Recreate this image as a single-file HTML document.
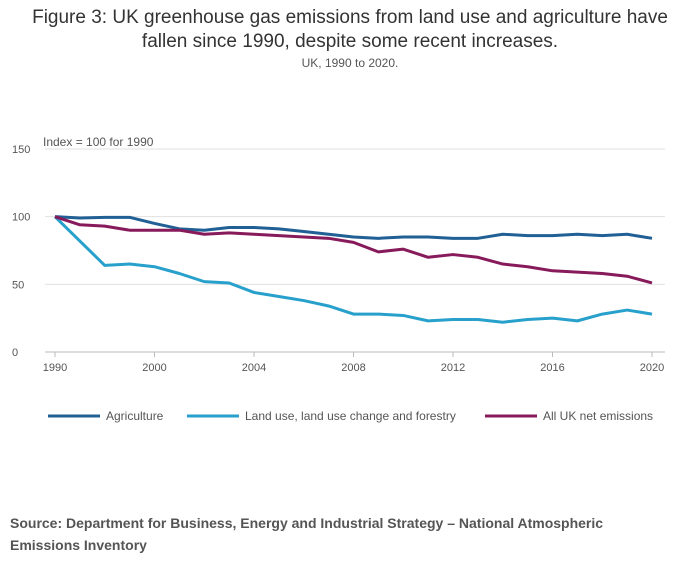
<!DOCTYPE html>
<html><head><meta charset="utf-8"><style>
body{margin:0;background:#fff;width:700px;height:574px;overflow:hidden;font-family:"Liberation Sans",sans-serif;}
.t{position:absolute;left:0;width:700px;text-align:center;}
</style></head><body>
<div class="t" style="top:6px;font-size:19px;color:#333;line-height:24px;">Figure 3: UK greenhouse gas emissions from land use and agriculture have<br>fallen since 1990, despite some recent increases.</div>
<div class="t" style="top:56px;font-size:12px;color:#555;">UK, 1990 to 2020.</div>
<svg id="c" width="700" height="574" style="position:absolute;left:0;top:0"></svg>
<div style="position:absolute;left:10px;top:512px;font-size:14px;font-weight:bold;color:#555;line-height:22px;">Source: Department for Business, Energy and Industrial Strategy – National Atmospheric<br>Emissions Inventory</div>
<script>
const years=[1990,1995,1998,1999,2000,2001,2002,2003,2004,2005,2006,2007,2008,2009,2010,2011,2012,2013,2014,2015,2016,2017,2018,2019,2020];
const agriculture=[100,99,99.5,99.5,95,91,90,92,92,91,89,87,85,84,85,85,84,84,87,86,86,87,86,87,84];
const lulucf=[100,82,64,65,63,58,52,51,44,41,38,34,28,28,27,23,24,24,22,24,25,23,28,31,28];
const allUK=[100,94,93,90,90,90,87,88,87,86,85,84,81,74,76,70,72,70,65,63,60,59,58,56,51];
const yTicks=[0,50,100,150];
const xTickLabels=[1990,2000,2004,2008,2012,2016,2020];
const NS="http://www.w3.org/2000/svg",svg=document.getElementById('c');
const x0=55,x1=652,y0=352,y1=149;
const xs=i=>x0+(x1-x0)*i/(years.length-1);
const ys=v=>y0-(y0-y1)*v/150;
function mk(t,a,p){const e=document.createElementNS(NS,t);for(const k in a)e.setAttribute(k,a[k]);(p||svg).appendChild(e);return e;}
yTicks.forEach(v=>{
 const l=mk('line',{x1:45,x2:665,y1:ys(v),y2:ys(v),stroke:v?'#e0e0e0':'#bbb','stroke-width':1});
 
 
 const t=mk('text',{x:12,y:ys(v)+4,'font-size':11,fill:'#555'});t.textContent=v;
 
 
});
const yt=mk('text',{x:43,y:146,'font-size':12,fill:'#555'});yt.textContent='Index = 100 for 1990';


xTickLabels.forEach(y=>{
 const i=years.indexOf(y),x=xs(i);
 const tk=mk('line',{x1:x,x2:x,y1:352,y2:357,stroke:'#bbb'});
 
 
 const t=mk('text',{x:x,y:371,'font-size':11,fill:'#555','text-anchor':'middle'});t.textContent=y;
 
 
});
const series=[['agriculture',agriculture,'#206095'],['land-use',lulucf,'#27a0cc'],['all-uk-net',allUK,'#871a5b']];
series.forEach(([n,d,c])=>{
 const p=mk('path',{d:d.map((v,i)=>(i?'L':'M')+xs(i)+' '+ys(v)).join(''),fill:'none',stroke:c,'stroke-width':3,'stroke-linejoin':'round'});
 
 
});
const leg=[['Agriculture','#206095',48],['Land use, land use change and forestry','#27a0cc',187],['All UK net emissions','#871a5b',485]];
leg.forEach(([n,c,x])=>{
 const g=mk('g',{});
 
 
 mk('line',{x1:x,x2:x+52,y1:416,y2:416,stroke:c,'stroke-width':3},g);
 const t=mk('text',{x:x+58,y:420,'font-size':12,fill:'#555'},g);t.textContent=n;
});
</script>
</body></html>
